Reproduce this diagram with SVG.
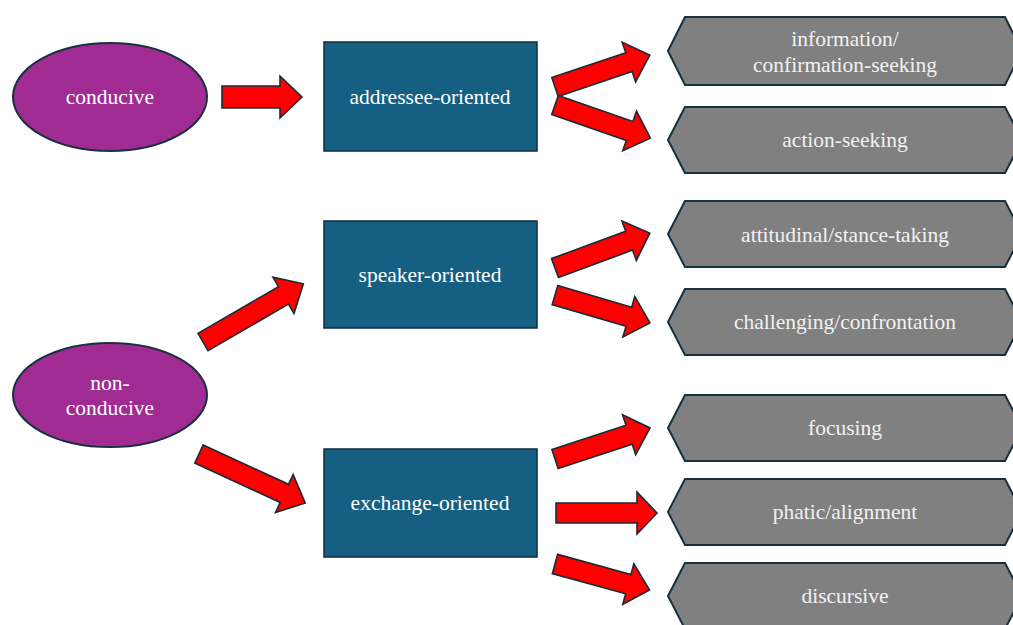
<svg xmlns="http://www.w3.org/2000/svg" width="1013" height="625" viewBox="0 0 1013 625">
<style>
.ell{fill:#a02b93;stroke:#17303f;stroke-width:2}
.box{fill:#156082;stroke:#0f2c3c;stroke-width:1.5}
.hex{fill:#808080;stroke:#17303f;stroke-width:2}
.arr{fill:#ff0000;stroke:#1a2b38;stroke-width:1.6;stroke-linejoin:miter}
.t{font-family:'Liberation Serif','Times New Roman',serif;font-size:21.5px;fill:#ffffff;text-anchor:middle;dominant-baseline:central}
.ht{fill:#f2f2f2}
</style>
<rect width="1013" height="625" fill="#ffffff"/>
<g id="conducive"><ellipse class="ell" cx="110" cy="97" rx="97" ry="54"/><text class="t" x="110" y="97">conducive</text></g>
<g id="non-conducive"><ellipse class="ell" cx="110" cy="395" rx="97" ry="52"/><text class="t" x="110" y="383">non-</text><text class="t" x="110" y="408">conducive</text></g>
<g id="addressee-oriented"><rect class="box" x="324" y="42" width="213" height="109"/><text class="t" x="430" y="97">addressee-oriented</text></g>
<g id="speaker-oriented"><rect class="box" x="324" y="221" width="213" height="107"/><text class="t" x="430" y="275">speaker-oriented</text></g>
<g id="exchange-oriented"><rect class="box" x="324" y="449" width="213" height="108"/><text class="t" x="430" y="503">exchange-oriented</text></g>
<g id="information"><polygon class="hex" points="668,51 685,17 1005,17 1022,51 1005,85 685,85"/><text class="t ht" x="845" y="39">information/</text><text class="t ht" x="845" y="65">confirmation-seeking</text></g>
<g id="action-seeking"><polygon class="hex" points="668,140 685,107 1005,107 1022,140 1005,173 685,173"/><text class="t ht" x="845" y="140">action-seeking</text></g>
<g id="attitudinal"><polygon class="hex" points="668,234 685,201 1005,201 1022,234 1005,267 685,267"/><text class="t ht" x="845" y="235">attitudinal/stance-taking</text></g>
<g id="challenging"><polygon class="hex" points="668,322 685,289 1005,289 1022,322 1005,355 685,355"/><text class="t ht" x="845" y="322">challenging/confrontation</text></g>
<g id="focusing"><polygon class="hex" points="668,428 685,395 1005,395 1022,428 1005,461 685,461"/><text class="t ht" x="845" y="428">focusing</text></g>
<g id="phatic"><polygon class="hex" points="668,512 685,479 1005,479 1022,512 1005,545 685,545"/><text class="t ht" x="845" y="512">phatic/alignment</text></g>
<g id="discursive"><polygon class="hex" points="668,596 685,563 1005,563 1022,596 1005,629 685,629"/><text class="t ht" x="845" y="596">discursive</text></g>
<g id="connectors">
<polygon class="arr" transform="translate(222,97)" points="0,-11 58,-11 58,-21 80,0 58,21 58,11 0,11"/>
<polygon class="arr" transform="translate(555,87) rotate(-18.6)" points="0,-10 78,-10 78,-21 100,0 78,21 78,10 0,10"/>
<polygon class="arr" transform="translate(555,105) rotate(19.2)" points="0,-10 79,-10 79,-21 101,0 79,21 79,10 0,10"/>
<polygon class="arr" transform="translate(203,342) rotate(-30.1)" points="0,-10 93,-10 93,-21 116,0 93,21 93,10 0,10"/>
<polygon class="arr" transform="translate(555,268) rotate(-20.2)" points="0,-10 79,-10 79,-21 101,0 79,21 79,10 0,10"/>
<polygon class="arr" transform="translate(555,295) rotate(16.4)" points="0,-10 77,-10 77,-21 99,0 77,21 77,10 0,10"/>
<polygon class="arr" transform="translate(199,454) rotate(24.8)" points="0,-10 94,-10 94,-21 117,0 94,21 94,10 0,10"/>
<polygon class="arr" transform="translate(555,459) rotate(-18.1)" points="0,-10 78,-10 78,-21 100,0 78,21 78,10 0,10"/>
<polygon class="arr" transform="translate(556,513)" points="0,-10 81,-10 81,-21 101,0 81,21 81,10 0,10"/>
<polygon class="arr" transform="translate(555,564) rotate(15.3)" points="0,-10 76,-10 76,-21 98,0 76,21 76,10 0,10"/>
</g>
</svg>
